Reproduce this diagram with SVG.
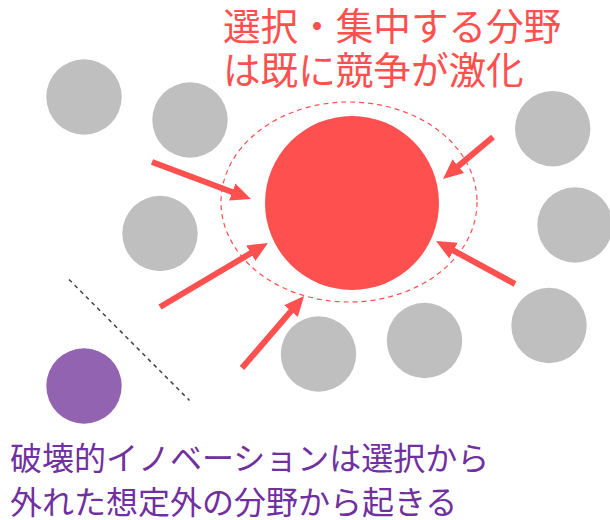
<svg xmlns="http://www.w3.org/2000/svg" width="610" height="520" viewBox="0 0 610 520">
<style>
.gray{fill:#BFBFBF}
.arrow{stroke:#FF5050;stroke-width:6;fill:none;marker-end:url(#head)}
.red-t{font-family:"Noto Sans CJK JP","Noto Sans",sans-serif;font-size:37.6px;fill:#FF5050}
.pur-t{font-family:"Noto Sans CJK JP","Noto Sans",sans-serif;font-size:32px;fill:#7030A0}
</style>
<defs>
<marker id="head" markerUnits="userSpaceOnUse" markerWidth="22" markerHeight="20" viewBox="0 -10 22 20" refX="2" refY="0" orient="auto">
<path d="M0,-9 L20,0 L0,9 z" fill="#FF5050"/>
</marker>
</defs>
<rect width="610" height="520" fill="#FFFFFF"/>
<g id="others">
<circle class="gray" cx="84" cy="97" r="37.7"/>
<circle class="gray" cx="190" cy="120" r="37.7"/>
<circle class="gray" cx="160" cy="233.5" r="37.7"/>
<circle class="gray" cx="552.7" cy="128.7" r="37.7"/>
<circle class="gray" cx="575" cy="225" r="37.7"/>
<circle class="gray" cx="549" cy="325.5" r="37.7"/>
<circle class="gray" cx="424.5" cy="340.5" r="37.7"/>
<circle class="gray" cx="318.5" cy="354" r="37.7"/>
</g>
<g id="focus">
<ellipse cx="349" cy="202" rx="128" ry="100" fill="none" stroke="#FF5050" stroke-width="1.2" stroke-dasharray="5 4"/>
<circle cx="352" cy="203" r="87" fill="#FF5050"/>
</g>
<g id="disruptive">
<circle cx="84" cy="386" r="37.7" fill="#9263B1"/>
</g>
<g id="connectors">
<line class="arrow" x1="152" y1="162" x2="234.1" y2="192.7"/>
<line class="arrow" x1="160" y1="307" x2="252.5" y2="252.2"/>
<line class="arrow" x1="242" y1="368" x2="292.3" y2="309.6"/>
<line class="arrow" x1="493" y1="137" x2="456.8" y2="167.4"/>
<line class="arrow" x1="515" y1="284" x2="451.8" y2="249.6"/>
<line x1="69" y1="279.5" x2="189.5" y2="400.5" stroke="#404040" stroke-width="1.5" stroke-dasharray="4 4"/>
</g>
<g id="labels">
<text class="red-t" x="223" y="40">選択・集中する分野</text>
<text class="red-t" x="223" y="84">は既に競争が激化</text>
<text class="pur-t" x="10" y="470">破壊的イノベーションは選択から</text>
<text class="pur-t" x="10" y="514">外れた想定外の分野から起きる</text>
</g>
</svg>
